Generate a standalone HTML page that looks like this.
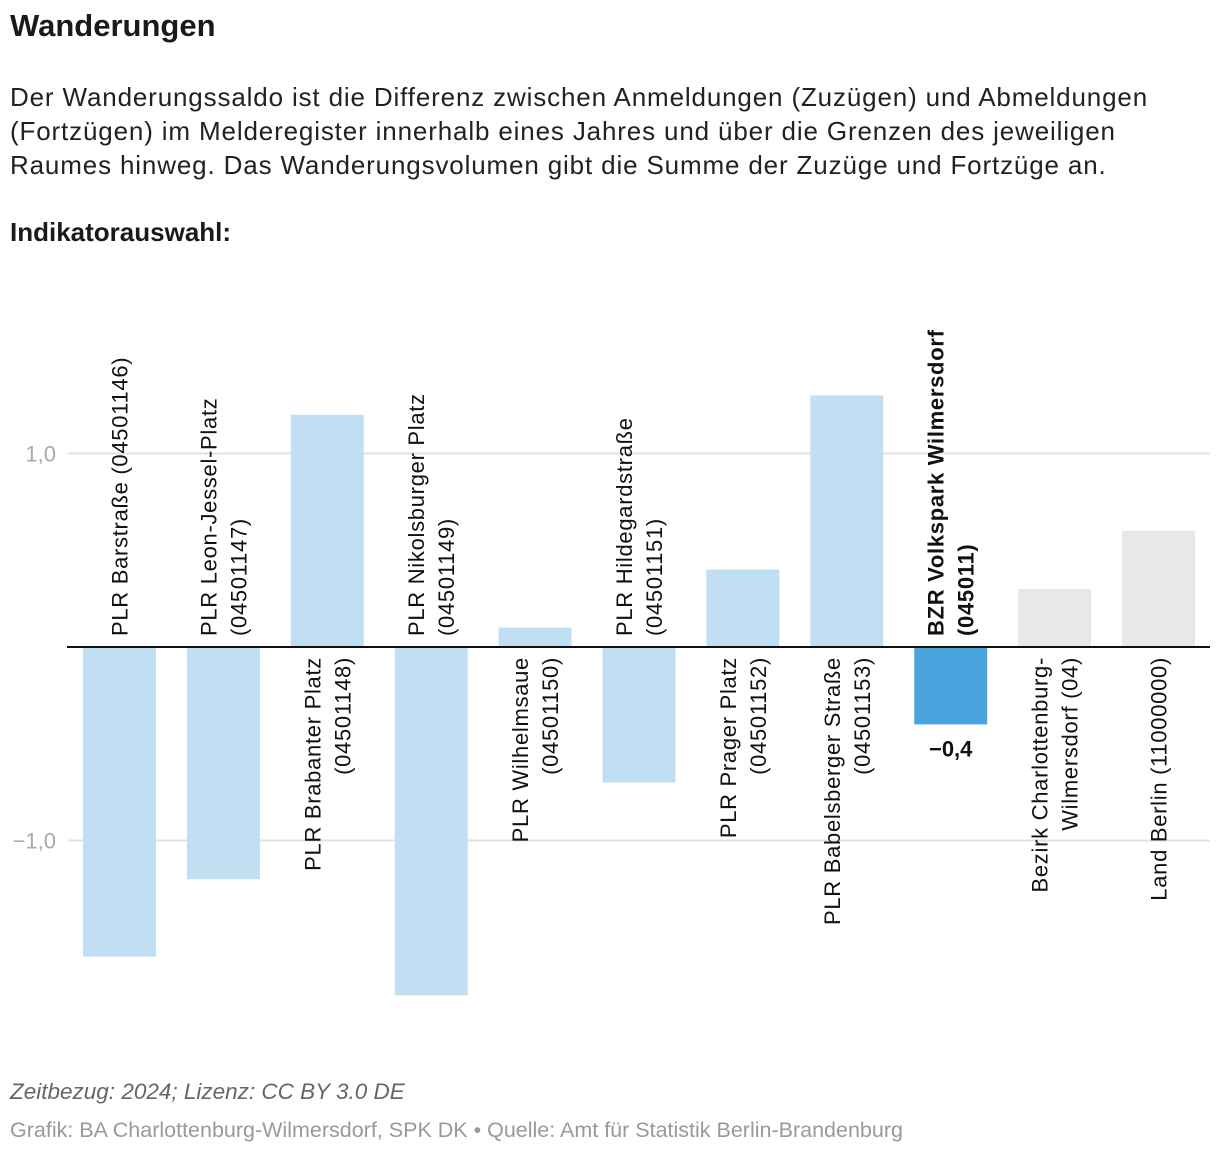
<!DOCTYPE html>
<html><head><meta charset="utf-8"><style>
body{margin:0;width:1220px;height:1154px;background:#fff;font-family:"Liberation Sans",sans-serif;color:#1a1a1a;position:relative;overflow:hidden}
.t{position:absolute;left:10px;white-space:nowrap}
</style></head><body>
<div class="t" style="top:8px;font-size:31px;font-weight:bold">Wanderungen</div>
<div class="t" style="top:80px;font-size:26px;letter-spacing:0.85px;line-height:34px;color:#222">Der Wanderungssaldo ist die Differenz zwischen Anmeldungen (Zuzügen) und Abmeldungen<br>(Fortzügen) im Melderegister innerhalb eines Jahres und über die Grenzen des jeweiligen<br>Raumes hinweg. Das Wanderungsvolumen gibt die Summe der Zuzüge und Fortzüge an.</div>
<div class="t" style="top:217px;font-size:26px;font-weight:bold">Indikatorauswahl:</div>
<svg id="chart" width="1220" height="1154" style="position:absolute;left:0;top:0"></svg>
<div class="t" style="top:1079px;font-size:22.5px;font-style:italic;color:#666">Zeitbezug: 2024; Lizenz: CC BY 3.0 DE</div>
<div class="t" style="top:1118px;font-size:21.5px;color:#999">Grafik: BA Charlottenburg-Wilmersdorf, SPK DK • Quelle: Amt für Statistik Berlin-Brandenburg</div>
<script>
const categories=[["PLR Barstraße (04501146)"],["PLR Leon-Jessel-Platz","(04501147)"],["PLR Brabanter Platz","(04501148)"],["PLR Nikolsburger Platz","(04501149)"],["PLR Wilhelmsaue","(04501150)"],["PLR Hildegardstraße","(04501151)"],["PLR Prager Platz","(04501152)"],["PLR Babelsberger Straße","(04501153)"],["BZR Volkspark Wilmersdorf","(045011)"],["Bezirk Charlottenburg-","Wilmersdorf (04)"],["Land Berlin (11000000)"]];
const values=[-1.6,-1.2,1.2,-1.8,0.1,-0.7,0.4,1.3,-0.4,0.3,0.6];
const kinds=["plr","plr","plr","plr","plr","plr","plr","plr","focus","ref","ref"];
const tickValues=[1,-1];
const tickLabels=["1,0","−1,0"];
const NS="http://www.w3.org/2000/svg",svg=document.getElementById("chart");
const y=v=>647-v*193.5;
const bandX=i=>83+i*103.9, bw=73;
function el(t,a){const e=document.createElementNS(NS,t);for(const k in a)e.setAttribute(k,a[k]);svg.appendChild(e);return e;}
tickValues.forEach((v,i)=>{
 const g=el("line",{x1:68,x2:1210,y1:y(v),y2:y(v),stroke:"#e2e2e2","stroke-width":2});
 
 const t=el("text",{x:56,y:y(v)+8,"text-anchor":"end","font-size":22,fill:"#aaa"});t.textContent=tickLabels[i];
 
});
const col={plr:"#c0dff2",focus:"#4aa5df",ref:"#e8e8e8"};
values.forEach((v,i)=>{
 const x=bandX(i),top=Math.min(y(v),y(0)),h=Math.abs(y(v)-y(0));
 const r=el("rect",{x:x,y:top,width:bw,height:h,fill:col[kinds[i]]});
 
 const lines=categories[i],cx=x+bw/2,n=lines.length;
 lines.forEach((s,j)=>{
  const lx=cx+(n==1?0:(j==0?-15:15))+8;
  const ly=v<0?636:657;
  const t=el("text",{transform:`translate(${lx},${ly}) rotate(-90)`,"font-size":22,"letter-spacing":0.7,fill:"#111","text-anchor":v<0?"start":"end","font-weight":kinds[i]=="focus"?"bold":"normal"});
  t.textContent=s;
  
 });
 if(kinds[i]=="focus"){
  const t=el("text",{x:cx,y:y(v)+32,"text-anchor":"middle","font-size":22,"font-weight":"bold",fill:"#111"});
  t.textContent=(v<0?"−":"")+Math.abs(v).toFixed(1).replace(".",",");
  
 }
});
const ax=el("line",{x1:67,x2:1210,y1:y(0),y2:y(0),stroke:"#111","stroke-width":2});

</script>
</body></html>
